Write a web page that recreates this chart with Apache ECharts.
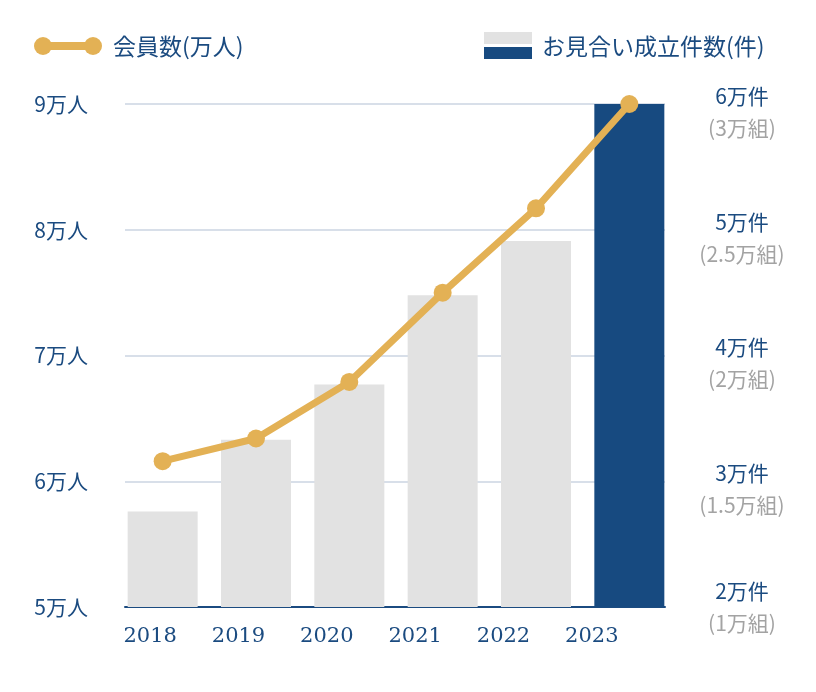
<!DOCTYPE html>
<html><head><meta charset="utf-8">
<script src="https://cdn.jsdelivr.net/npm/echarts@6/dist/echarts.min.js"></script>
<style>html,body{margin:0;padding:0;background:#fff}#c{width:816px;height:692px}</style>
</head><body><div id="c"></div>
<script>
const years = ['2018','2019','2020','2021','2022','2023'];
const members = [6.16, 6.34, 6.79, 7.50, 8.17, 9.00]; // 万人
const matches = [2.76, 3.33, 3.77, 4.48, 4.91, 6.00]; // 万件
const leftTicks = {5:'5万人',6:'6万人',7:'7万人',8:'8万人',9:'9万人'};
const rightTicks = {2:['2万件','(1万組)'],3:['3万件','(1.5万組)'],4:['4万件','(2万組)'],5:['5万件','(2.5万組)'],6:['6万件','(3万組)']};
const lineName = '会員数(万人)';
const barName = 'お見合い成立件数(件)';

const BLUE = '#1b4b80', DARK = '#174a80', GRAY = '#e2e2e2', GOLD = '#e3b155', GRID = '#d8dfe9', SUB = '#a3a3a3';
const CJK = '"Noto Sans CJK JP","Noto Sans",sans-serif';
const SERIF = '"DejaVu Serif","Liberation Serif",serif';

const chart = echarts.init(document.getElementById('c'));
chart.setOption({
  animation: false,
  backgroundColor: '#fff',
  grid: [
    {left:125, right:151, top:104, bottom:85},
    {left:116, right:140, top:104, bottom:85},
    {left:106, right:180, top:104, bottom:85}
  ],
  xAxis: [
    {gridIndex:0, type:'category', data:years, axisLine:{show:true, lineStyle:{color:BLUE, width:2}}, axisTick:{show:false}, axisLabel:{show:false}, splitLine:{show:false}},
    {gridIndex:1, type:'category', data:years, axisLine:{show:false}, axisTick:{show:false}, axisLabel:{show:false}},
    {gridIndex:2, type:'category', data:years, axisLine:{show:false}, axisTick:{show:false},
      axisLabel:{show:true, color:BLUE, fontFamily:SERIF, fontSize:21, margin:19}}
  ],
  yAxis: [
    {gridIndex:0, type:'value', min:5, max:9, interval:1, position:'left',
      axisLine:{show:false}, axisTick:{show:false},
      splitLine:{show:true, lineStyle:{color:GRID, width:2}},
      axisLabel:{color:BLUE, fontFamily:CJK, fontSize:21, margin:37, formatter:v=>leftTicks[v]||''}},
    {gridIndex:0, type:'value', min:2, max:6, interval:1, position:'right',
      axisLine:{show:false}, axisTick:{show:false}, splitLine:{show:false},
      axisLabel:{margin:77, align:'center', formatter:v=>{
        const t = rightTicks[v]; if(!t) return '';
        return v===2 ? '{a|'+t[0]+'}\n{b|'+t[1]+'}' : '{s| }\n{a|'+t[0]+'}\n{b|'+t[1]+'}';
      }, rich:{
        s:{fontSize:1, lineHeight:16},
        a:{color:BLUE, fontFamily:CJK, fontSize:21, lineHeight:32, align:'center'},
        b:{color:SUB, fontFamily:CJK, fontSize:21, lineHeight:32, align:'center'}
      }}},
    {gridIndex:1, type:'value', min:5, max:9, interval:1, show:false},
    {gridIndex:1, type:'value', min:2, max:6, interval:1, show:false},
    {gridIndex:2, type:'value', min:0, max:1, show:false}
  ],
  graphic: [
    {type:'line', shape:{x1:43,y1:46,x2:93,y2:46}, style:{stroke:GOLD, lineWidth:8}},
    {type:'circle', shape:{cx:43,cy:46,r:9}, style:{fill:GOLD}},
    {type:'circle', shape:{cx:93,cy:46,r:9}, style:{fill:GOLD}},
    {type:'text', x:113, y:46, style:{text:lineName, fill:BLUE, font:'23px '+CJK, verticalAlign:'middle'}},
    {type:'rect', shape:{x:484,y:32,width:48,height:12}, style:{fill:GRAY}},
    {type:'rect', shape:{x:484,y:47,width:48,height:12}, style:{fill:DARK}},
    {type:'text', x:542, y:46, style:{text:barName, fill:BLUE, font:'23px '+CJK, verticalAlign:'middle'}}
  ],
  series: [
    {name:barName, type:'bar', xAxisIndex:1, yAxisIndex:3, barWidth:70, z:2,
      data: matches.map((v,i)=>({value:v, itemStyle:{color: i===matches.length-1 ? DARK : GRAY}}))},
    {name:lineName, type:'line', xAxisIndex:1, yAxisIndex:2, z:5, data:members,
      symbol:'circle', symbolSize:18, lineStyle:{color:GOLD, width:7}, itemStyle:{color:GOLD}}
  ]
});
</script></body></html>
